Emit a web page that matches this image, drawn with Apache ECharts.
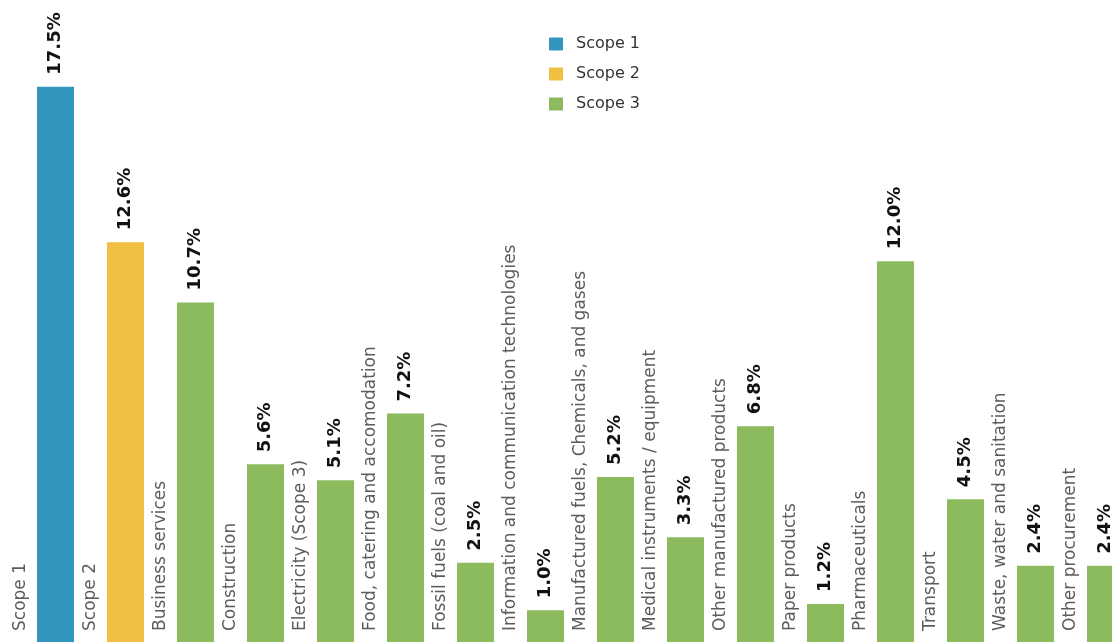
<!DOCTYPE html>
<html><head><meta charset="utf-8">
<script src="https://cdn.jsdelivr.net/npm/echarts@6/dist/echarts.min.js"></script>
<style>html,body{margin:0;padding:0;background:#fff;overflow:hidden;width:1112px;height:642px}#c{width:1160px;height:642px}</style>
</head><body><div id="c"></div>
<script>
const categories = ["Scope 1","Scope 2","Business services","Construction","Electricity (Scope 3)","Food, catering and accomodation","Fossil fuels (coal and oil)","Information and communication technologies","Manufactured fuels, Chemicals, and gases","Medical instruments / equipment","Other manufactured products","Paper products","Pharmaceuticals","Transport","Waste, water and sanitation","Other procurement"];
const values = [17.5,12.6,10.7,5.6,5.1,7.2,2.5,1.0,5.2,3.3,6.8,1.2,12.0,4.5,2.4,2.4];
const scopes = ["Scope 1","Scope 2","Scope 3","Scope 3","Scope 3","Scope 3","Scope 3","Scope 3","Scope 3","Scope 3","Scope 3","Scope 3","Scope 3","Scope 3","Scope 3","Scope 3"];
const scopeNames = ["Scope 1","Scope 2","Scope 3"];
const colors = ["#3296BE","#F0BE41","#8CBB5E"];
const FONT = "DejaVu Sans";

const series = scopeNames.map((s,k)=>({
  name: s, type: 'bar', stack: 'all', barWidth: 37,
  itemStyle: {color: colors[k]},
  data: values.map((v,i)=> scopes[i]===s ? v : '-'),
  label: {show: true, position: 'top', rotate: 90, align: 'left', verticalAlign: 'middle', distance: 12,
    formatter: p => p.value.toFixed(1) + '%', fontFamily: FONT, fontWeight: 'bold', fontSize: 18, color: '#111'}
}));
series.push({
  type: 'scatter', symbolSize: 0, silent: true, z: 5,
  data: categories.map((c,i)=>[i,0]),
  label: {show: true, position: 'top', distance: 0, rotate: 90, align: 'left', verticalAlign: 'middle',
    offset: [11, -35], formatter: p => categories[p.dataIndex],
    fontFamily: FONT, fontSize: 17, color: '#333'}
});

const chart = echarts.init(document.getElementById('c'), null, {renderer: 'canvas'});
chart.setOption({
  animation: false,
  legend: {data: scopeNames, orient: 'vertical', left: 549, top: 36, padding: 0, icon: 'rect', itemWidth: 14, itemHeight: 13, itemGap: 14,
    textStyle: {fontFamily: FONT, fontSize: 16, lineHeight: 14, color: '#333', padding: [0,0,0,8]}},
  grid: {left: 20.5, right: 19.5, top: 7.4, bottom: -2, containLabel: false},
  xAxis: {type: 'category', data: categories, show: false},
  yAxis: {type: 'value', min: 0, max: 20, show: false},
  series: series
});
</script></body></html>
